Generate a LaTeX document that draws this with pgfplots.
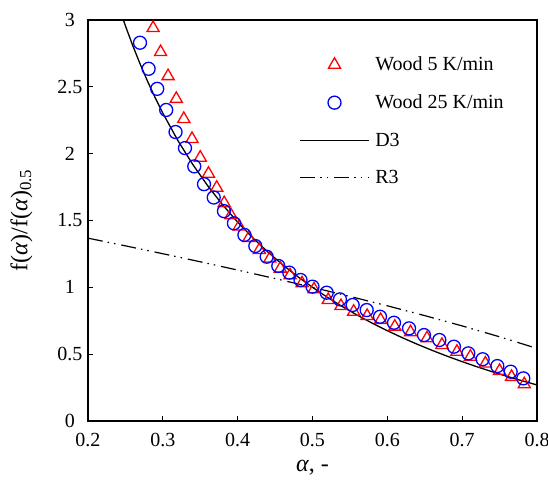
\documentclass[border=0pt]{standalone}
\usepackage{fontspec}
\setmainfont{Liberation Serif}
\usepackage{pgfplots}
\pgfplotsset{compat=1.18}
\pgfplotsset{markleg/.style={legend image code/.code={\draw[mark repeat=2,mark phase=2,##1] plot coordinates {(0cm,0cm)(1.2cm,0cm)(2.4cm,0cm)};}}}
\begin{document}
\begin{tikzpicture}
\useasboundingbox (-88pt,-67pt) rectangle (460pt,421pt);
\begin{axis}[
  scale only axis, width=449pt, height=401pt,
  xmin=0.2, xmax=0.8, ymin=0, ymax=3,
  xtick={0.2,0.3,0.4,0.5,0.6,0.7,0.8},
  xticklabels={0.2,0.3,0.4,0.5,0.6,0.7,0.8},
  ytick={0,0.5,1,1.5,2,2.5,3},
  yticklabels={0,0.5,1,1.5,2,2.5,3},
  tick align=inside, xtick pos=bottom, ytick pos=left,
  major tick length=5pt,
  axis line style={line width=1.4pt},
  tick style={line width=1.2pt, black},
  ticklabel style={font=\fontsize{20}{23}\selectfont},
  xticklabel style={anchor=center, yshift=-19pt},
  yticklabel style={anchor=center, xshift=-18pt},
  /pgf/number format/assume math mode=true,
  xlabel={\textit{α}, -},
  ylabel={f(\textit{α})/f(\textit{α})\textsubscript{0.5}},
  label style={font=\fontsize{24}{28}\selectfont},
  xlabel style={at={(axis description cs:0.5,-0.117)}, anchor=center},
  ylabel style={at={(axis description cs:-0.148,0.5)}, anchor=center},
  legend style={draw=none, fill=none, at={(axis description cs:0.4644,0.918)}, anchor=north west,
    font=\fontsize{20}{23}\selectfont, row sep=18.5pt,
    /tikz/every odd column/.append style={column sep=4pt}},
  legend cell align=left,
  legend image code/.code={\draw[#1] (0cm,0cm) -- (2.4cm,0cm);},
]
\addplot[only marks, mark=triangle, mark size=7pt, red, mark options={line width=1.3pt}, markleg]
coordinates {
(0.287,2.94)(0.297,2.76)(0.307,2.58)(0.318,2.41)(0.328,2.26)(0.339,2.11)(0.350,1.97)
(0.361,1.85)(0.372,1.745)(0.382,1.63)(0.391,1.54)(0.402,1.455)(0.415,1.37)(0.429,1.28)
(0.443,1.215)(0.457,1.14)(0.470,1.09)(0.486,1.03)(0.502,0.985)(0.521,0.905)(0.538,0.86)
(0.555,0.818)(0.573,0.786)(0.591,0.756)(0.610,0.706)(0.631,0.664)(0.653,0.619)(0.673,0.569)
(0.693,0.518)(0.711,0.481)(0.731,0.43)(0.750,0.375)(0.766,0.33)(0.783,0.275)
};
\addlegendentry{Wood 5 K/min}
\addplot[only marks, mark=o, mark size=6.5pt, blue, mark options={line width=1.3pt}, markleg]
coordinates {
(0.2695,2.83)(0.281,2.635)(0.2925,2.485)(0.3045,2.327)(0.317,2.162)(0.3296,2.042)(0.342,1.905)
(0.355,1.772)(0.368,1.672)(0.3817,1.57)(0.395,1.479)(0.409,1.392)(0.4236,1.309)(0.4388,1.229)
(0.4543,1.16)(0.469,1.11)(0.484,1.055)(0.500,1.005)(0.519,0.96)(0.5367,0.91)(0.5537,0.868)
(0.5724,0.83)(0.5902,0.78)(0.6089,0.735)(0.629,0.693)(0.649,0.643)(0.6695,0.606)(0.689,0.556)
(0.7082,0.506)(0.7274,0.462)(0.747,0.411)(0.7648,0.369)(0.7817,0.319)
};
\addlegendentry{Wood 25 K/min}
\addplot[black, line width=1.3pt] coordinates {
(0.24,3.1197)(0.25,2.9563)(0.26,2.8055)(0.27,2.6659)(0.28,2.5364)(0.29,2.4158)(0.30,2.3032)
(0.32,2.0992)(0.34,1.9193)(0.36,1.7595)(0.38,1.6165)(0.40,1.4879)(0.42,1.3716)(0.44,1.2660)
(0.46,1.1696)(0.48,1.0812)(0.50,1.0)(0.52,0.9250)(0.54,0.8557)(0.56,0.7913)(0.58,0.7314)
(0.60,0.6755)(0.62,0.6232)(0.64,0.5742)(0.66,0.5282)(0.68,0.4848)(0.70,0.4440)(0.72,0.4053)
(0.74,0.3688)(0.76,0.3341)(0.78,0.3011)(0.80,0.2697)
};
\addlegendentry{D3}
\addplot[black, line width=1.2pt, dash pattern=on 15pt off 5pt on 1.5pt off 5pt on 1.5pt off 6pt] coordinates {
(0.20,1.3680)(0.25,1.3104)(0.30,1.2515)(0.35,1.1912)(0.40,1.1292)(0.45,1.0656)(0.50,1.0)
(0.55,0.9322)(0.60,0.8618)(0.65,0.7884)(0.70,0.7114)(0.75,0.6300)(0.80,0.5429)
};
\addlegendentry{R3}
\end{axis}
\end{tikzpicture}
\end{document}
